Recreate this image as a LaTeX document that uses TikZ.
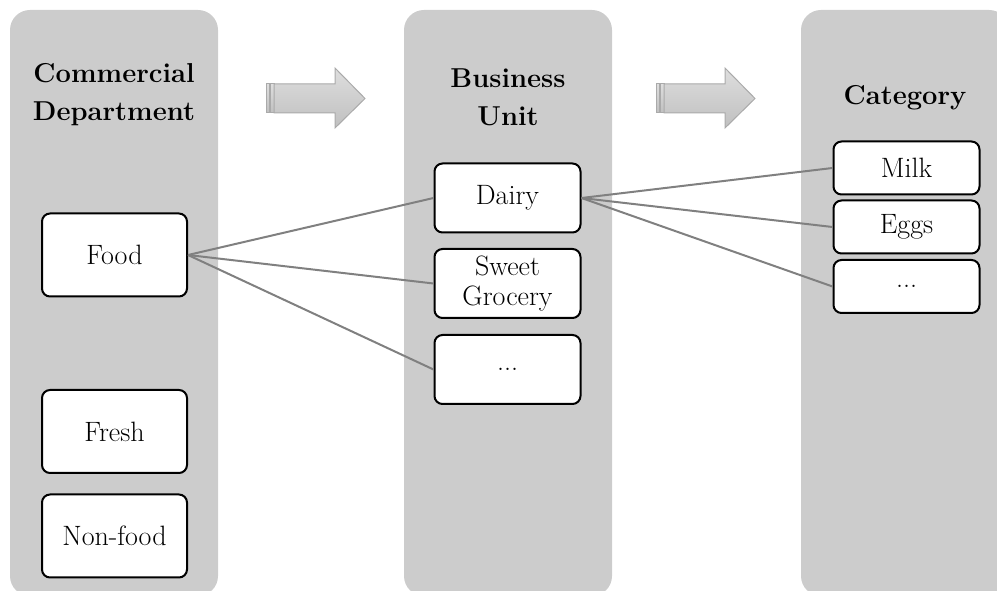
\documentclass[tikz,border=0pt]{standalone}
\usetikzlibrary{shadings}

\definecolor{colgrey}{RGB}{204,204,204}
\definecolor{linkgrey}{RGB}{128,128,128}
\definecolor{arrowtop}{RGB}{222,222,222}
\definecolor{arrowbot}{RGB}{192,192,192}
\definecolor{arrowedge}{RGB}{170,170,170}

\tikzset{
  column/.style={fill=colgrey, draw=none, rounded corners=15pt},
  header/.style={font=\fontsize{20.5}{28.5}\selectfont\bfseries, align=center, inner sep=0.75pt},
  itembox/.style={draw=black, line width=1.5pt, fill=white, rounded corners=6pt,
    align=center, font=\fontsize{21}{22}\selectfont, inner sep=0pt},
  link/.style={draw=linkgrey, line width=1.5pt},
  flowarrow/.style={top color=arrowtop, bottom color=arrowbot, draw=arrowedge, line width=0.75pt}
}

\begin{document}
\begin{tikzpicture}[x=0.75pt,y=0.75pt,yscale=-1,xscale=1]
\useasboundingbox (0,0) rectangle (997,591);
\clip (0,0) rectangle (997,591);

%Shape: Columns
\foreach \cx in {10,404,801}
  \draw [column] (\cx,10) rectangle (\cx+208,596);

%Shape: Block arrows
\foreach \ax in {266,656} {
  \draw [flowarrow] (\ax,84) rectangle (\ax+3,113);
  \draw [flowarrow] (\ax+4,84) rectangle (\ax+8,113);
  \draw [flowarrow] (\ax+8,84) -- (\ax+69,84) -- (\ax+69,68) -- (\ax+99,98.5)
    -- (\ax+69,128) -- (\ax+69,113) -- (\ax+8,113) -- cycle;
}

% Text Node
\node [header] (hdept) at (114,95) {Commercial\\Department};
% Text Node
\node [header] (hunit) at (508,97) {Business\\Unit};
% Text Node
\node [header] (hcat) at (905,98) {Category};

% Commercial department boxes
\node [itembox, minimum width=108.75pt, minimum height=62.25pt] (food) at (114.5,255) {Food};
\node [itembox, minimum width=108.75pt, minimum height=62.25pt] (fresh) at (114.5,431.5) {Fresh};
\node [itembox, minimum width=108.75pt, minimum height=62.25pt] (nonfood) at (114.5,536) {Non-food};

% Business unit boxes
\node [itembox, minimum width=109.5pt, minimum height=51.75pt] (dairy) at (507.5,198) {Dairy};
\node [itembox, minimum width=109.5pt, minimum height=51.75pt] (sweet) at (507.5,283.5) {Sweet\\Grocery};
\node [itembox, minimum width=109.5pt, minimum height=51.75pt] (unitmore) at (507.5,369.5) {...};

% Category boxes
\node [itembox, minimum width=109.5pt, minimum height=39.75pt] (milk) at (906.5,168) {Milk};
\node [itembox, minimum width=109.5pt, minimum height=39.75pt] (eggs) at (906.5,227) {Eggs};
\node [itembox, minimum width=109.5pt, minimum height=39.75pt] (catmore) at (906.5,286.5) {...};

%Connectors
\draw [link] (food.east) -- (dairy.west);
\draw [link] (food.east) -- (sweet.west);
\draw [link] (food.east) -- (unitmore.west);
\draw [link] (dairy.east) -- (milk.west);
\draw [link] (dairy.east) -- (eggs.west);
\draw [link] (dairy.east) -- (catmore.west);

\end{tikzpicture}
\end{document}
